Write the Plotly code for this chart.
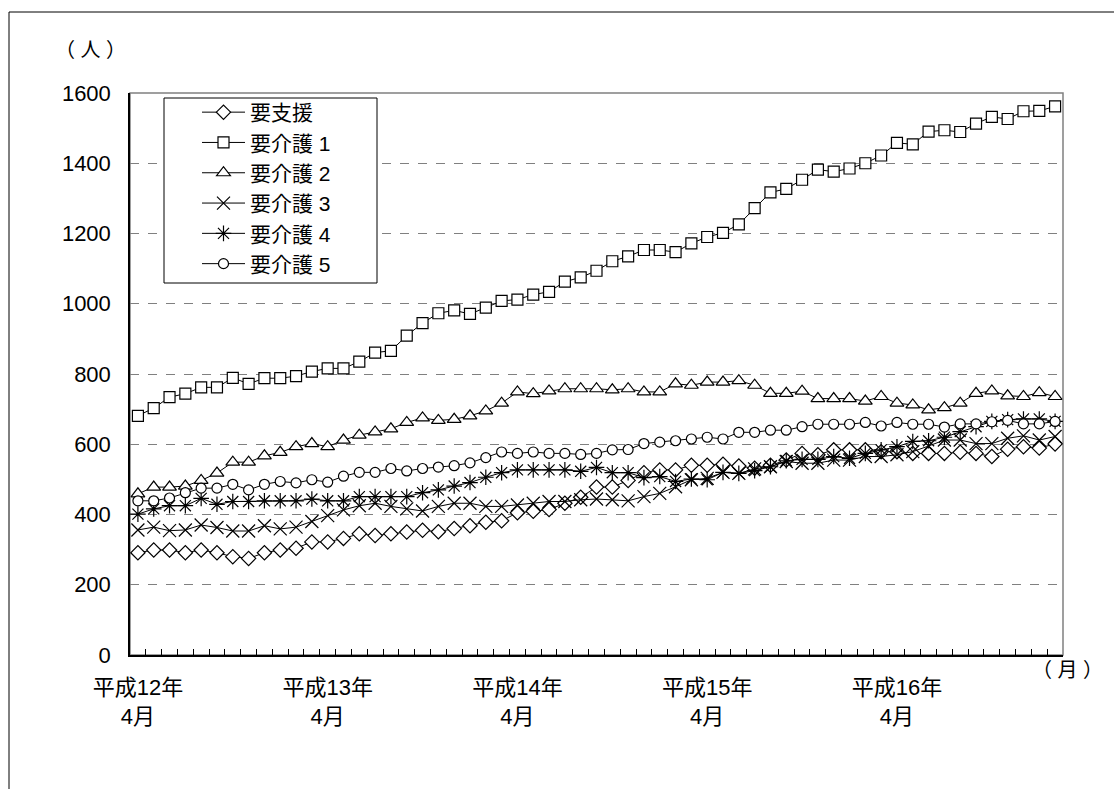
import plotly.graph_objects as go

months = list(range(59))  # 平成12年4月 .. 平成17年2月 (monthly)
tick_pos = [0, 12, 24, 36, 48]
tick_labels = ["平成12年<br>4月", "平成13年<br>4月", "平成14年<br>4月", "平成15年<br>4月", "平成16年<br>4月"]

names = ["要支援", "要介護 1", "要介護 2", "要介護 3", "要介護 4", "要介護 5"]

youshien = [291, 299, 299, 291, 299, 291, 280, 275, 291, 299, 304, 322, 322, 332, 345, 340, 345, 350, 355, 351,
            360, 368, 378, 382, 405, 409, 414, 432, 449, 478, 478, 497, 519, 527, 527, 540, 540, 543, 538, 532,
            540, 555, 574, 570, 584, 584, 584, 579, 579, 574, 574, 574, 577, 574, 565, 586, 593, 589, 601]
kaigo1 = [681, 703, 734, 744, 762, 762, 789, 772, 788, 788, 794, 807, 816, 816, 835, 861, 866, 909, 945, 973,
          981, 971, 989, 1008, 1012, 1026, 1034, 1063, 1075, 1094, 1121, 1135, 1153, 1153, 1147, 1172, 1190, 1202, 1226, 1272,
          1317, 1327, 1353, 1382, 1376, 1385, 1400, 1422, 1458, 1454, 1490, 1494, 1489, 1513, 1532, 1526, 1548, 1549, 1562]
kaigo2 = [459, 478, 478, 481, 497, 518, 549, 549, 567, 577, 593, 602, 593, 612, 626, 635, 644, 662, 675, 668,
          671, 681, 695, 717, 749, 744, 752, 758, 758, 758, 755, 758, 749, 749, 772, 768, 777, 777, 781, 768,
          745, 745, 751, 730, 730, 730, 723, 736, 717, 712, 698, 704, 717, 745, 752, 738, 736, 747, 736]
kaigo3 = [356, 364, 354, 356, 370, 363, 353, 353, 368, 359, 364, 380, 397, 413, 425, 432, 423, 416, 410, 423,
          432, 432, 423, 423, 427, 432, 437, 437, 442, 444, 442, 439, 451, 460, 479, 499, 503, 520, 517, 530,
          536, 551, 546, 546, 555, 555, 565, 565, 570, 579, 595, 612, 612, 602, 602, 617, 624, 612, 622]
kaigo4 = [401, 416, 425, 425, 446, 429, 437, 437, 439, 439, 439, 444, 439, 439, 451, 451, 451, 451, 462, 470,
          481, 491, 506, 519, 527, 527, 527, 527, 523, 534, 519, 519, 505, 508, 494, 501, 499, 520, 517, 525,
          536, 553, 557, 557, 565, 560, 574, 584, 593, 608, 610, 620, 636, 650, 665, 670, 672, 672, 665]
kaigo5 = [439, 439, 447, 462, 475, 475, 486, 470, 486, 494, 490, 499, 492, 509, 520, 520, 531, 524, 531, 535,
          539, 547, 562, 578, 574, 578, 574, 574, 571, 574, 584, 585, 602, 606, 610, 615, 620, 615, 634, 634,
          640, 640, 650, 657, 657, 657, 662, 652, 662, 657, 657, 649, 658, 658, 664, 668, 658, 658, 665]

series = [youshien, kaigo1, kaigo2, kaigo3, kaigo4, kaigo5]
symbols = ["diamond", "square", "triangle-up", "x-thin-open", "asterisk-open", "circle"]
sizes = [11, 11, 12, 13, 13, 10]
fills = ["white", "white", "white", "black", "black", "white"]

FONT = "Liberation Sans, Arial, Noto Sans CJK JP, sans-serif"

# plot-area geometry helpers (pixels -> paper)
L, R, T, B = 130, 1063, 93, 655
def px(x):
    return (x - L) / (R - L)
def py(y):
    return (B - y) / (B - T)

fig = go.Figure()
for nm, vals, sym, sz, fc in zip(names, series, symbols, sizes, fills):
    fig.add_trace(go.Scatter(
        x=months, y=vals, name=nm, mode="lines+markers",
        line=dict(color="black", width=1),
        marker=dict(symbol=sym, size=sz, color=fc,
                    line=dict(color="black", width=1.2)),
    ))

# invisible trace to activate the label axis
fig.add_trace(go.Scatter(x=[tick_pos[0]], y=[0], xaxis="x2", showlegend=False,
                         mode="markers", marker=dict(opacity=0), hoverinfo="skip"))

fig.update_layout(
    width=1114, height=789,
    margin=dict(l=L, r=1114 - R, t=T, b=789 - B),
    paper_bgcolor="white", plot_bgcolor="white",
    font=dict(family=FONT, size=22, color="black"),
    showlegend=True,
    legend=dict(x=px(197), y=py(92), xanchor="left", yanchor="top",
                bgcolor="rgba(0,0,0,0)", borderwidth=0,
                font=dict(size=21), itemwidth=43, traceorder="normal"),
    xaxis=dict(range=[-0.5, 58.5], tickmode="array",
               tickvals=[k - 0.5 for k in range(60)], ticktext=[""] * 60,
               ticks="inside", ticklen=6, tickcolor="black", tickwidth=1,
               showgrid=False, zeroline=False,
               showline=True, linecolor="black", linewidth=1.5),
    xaxis2=dict(overlaying="x", anchor="y", side="bottom", range=[-0.5, 58.5],
                tickmode="array", tickvals=tick_pos, ticktext=tick_labels,
                ticks="", showgrid=False, zeroline=False, showline=False,
                ticklabelstandoff=17, tickfont=dict(size=22)),
    yaxis=dict(range=[0, 1600], dtick=200, tick0=0,
               showgrid=True, gridcolor="#808080", griddash="dash", gridwidth=1,
               zeroline=False, showline=True, linecolor="black", linewidth=1.5,
               ticks="", ticklabelstandoff=13, tickfont=dict(size=22)),
    shapes=[
        dict(type="rect", xref="paper", yref="paper", x0=0, x1=1, y0=0, y1=1,
             line=dict(color="#808080", width=1.5), layer="below"),
        dict(type="rect", xref="paper", yref="paper", x0=px(9), x1=px(1125), y0=py(800), y1=py(12),
             line=dict(color="black", width=1), layer="below"),
        # legend frame
        dict(type="rect", xref="paper", yref="paper", x0=px(164), x1=px(377), y0=py(283), y1=py(98),
             line=dict(color="black", width=1), fillcolor="white", layer="above"),
    ],
    annotations=[
        dict(text="（ 人 ）", xref="paper", yref="paper", x=px(90), y=py(50),
             showarrow=False, xanchor="center", yanchor="middle", font=dict(size=20)),
        dict(text="（ 月 ）", xref="paper", yref="paper", x=px(1104), y=py(670),
             showarrow=False, xanchor="right", yanchor="middle", font=dict(size=20),
             borderpad=0),
    ],
)

fig.write_html("out.html", config={"displayModeBar": False})

# remove the browser's default body margin so the figure sits at the page origin
with open("out.html", "r", encoding="utf-8") as f:
    html = f.read()
html = html.replace("<head>", "<head><style>body{margin:0;overflow:hidden;}</style>", 1)
with open("out.html", "w", encoding="utf-8") as f:
    f.write(html)
